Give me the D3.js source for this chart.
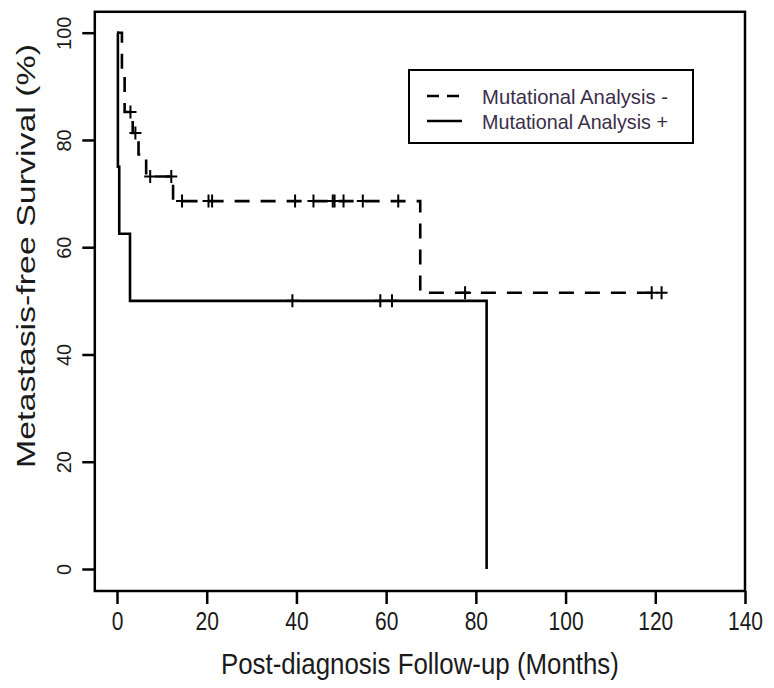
<!DOCTYPE html>
<html>
<head>
<meta charset="utf-8">
<script src="https://cdn.jsdelivr.net/npm/d3@7"></script>
<style>
body { margin: 0; background: #fff; }
svg { display: block; }
text { font-family: "Liberation Sans", Arial, sans-serif; fill: #1a1a1a; }
</style>
</head>
<body>
<div id="chart"></div>
<script>
var xTicks = [0, 20, 40, 60, 80, 100, 120, 140]
var yTicks = [0, 20, 40, 60, 80, 100]

// Kaplan-Meier steps: [months, survival %]
var negSteps = [[0, 100], [1.1, 92.6], [1.7, 85.2], [3.5, 81.3], [4.8, 77.3], [6.5, 73.2], [12.5, 68.6], [67.6, 51.5], [121.4, 51.5]]
var negCensor = [3.0, 4.1, 7.4, 12.1, 14.5, 20.4, 21.2, 39.7, 43.8, 48.1, 48.5, 50.5, 54.8, 62.7, 77.6, 119.2, 121.4]

var posSteps = [[0, 100], [0.2, 75], [0.5, 62.5], [2.9, 50], [82.4, 0]]
var posCensor = [39.1, 58.7, 61.3]

var seriesNames = ["Mutational Analysis -", "Mutational Analysis +"]
var xTitle = "Post-diagnosis Follow-up (Months)"
var yTitle = "Metastasis-free Survival (%)"

var width = 774, height = 688
var dash = "15,11"
var stretch = 1.2 //the original image is a bit taller than it is wide

var svg = d3.select("#chart").append("svg")
    .attr("width", width)
    .attr("height", height)

var x = d3.scaleLinear().domain([0, 140]).range([117, 745])
var y = d3.scaleLinear().domain([0, 100]).range([569, 32.7])

// the box runs a little past the data, like R's axis padding
var box = { left: x(-4.95), right: x(140), top: y(103.9), bottom: y(-4.1) }

function survivalAt(steps, t) {
    var s = steps[0][1]
    for (var i = 0, n = steps.length; i < n; i++) {
        if (steps[i][0] <= t) s = steps[i][1]
    }
    return s
}

var line = d3.line()
    .x(function (d) { return x(d[0]) })
    .y(function (d) { return y(d[1]) })
    .curve(d3.curveStepAfter)

function drawCurve(steps, censor, dashed) {
    var g = svg.append("g")
    g.append("path")
        .datum(steps)
        .attr("d", line)
        .attr("fill", "none")
        .attr("stroke", "#000")
        .attr("stroke-width", 2.6)
        .attr("stroke-dasharray", dashed ? dash : null)

    g.selectAll("path.censor")
        .data(censor)
        .enter()
        .append("path")
        .attr("class", "censor")
        .attr("d", function (d) {
            var cx = x(d), cy = y(survivalAt(steps, d))
            return "M" + (cx - 6) + "," + cy + "H" + (cx + 6) + "M" + cx + "," + (cy - 6.5) + "V" + (cy + 6.5)
        })
        .attr("stroke", "#000")
        .attr("stroke-width", 2)
}

drawCurve(negSteps, negCensor, true)
drawCurve(posSteps, posCensor, false)

// plot frame
svg.append("rect")
    .attr("x", box.left)
    .attr("y", box.top)
    .attr("width", box.right - box.left)
    .attr("height", box.bottom - box.top)
    .attr("fill", "none")
    .attr("stroke", "#000")
    .attr("stroke-width", 2.5)

var xAxis = svg.append("g")
    .attr("transform", "translate(0," + box.bottom + ")")
    .call(d3.axisBottom(x).tickValues(xTicks).tickSize(13).tickPadding(8))
xAxis.select(".domain").remove()
xAxis.selectAll("line").attr("stroke-width", 2.5)
xAxis.selectAll("text")
    .attr("font-size", 21)
    .attr("y", 21 / stretch)
    .attr("transform", "scale(1," + stretch + ")")

var yAxis = svg.append("g")
    .attr("transform", "translate(" + box.left + ",0)")
    .call(d3.axisLeft(y).tickValues(yTicks).tickSize(12.5))
yAxis.select(".domain").remove()
yAxis.selectAll("line").attr("stroke-width", 2.5)
yAxis.selectAll("text")
    .attr("font-size", 20)
    .attr("x", 0)
    .attr("y", -24)
    .attr("dy", null)
    .attr("text-anchor", "middle")
    .attr("transform", "rotate(-90)")

svg.append("text")
    .attr("transform", "translate(" + ((box.left + box.right) / 2) + ",674) scale(1," + stretch + ")")
    .attr("text-anchor", "middle")
    .attr("font-size", 25)
    .attr("textLength", 398)
    .attr("lengthAdjust", "spacingAndGlyphs")
    .text(xTitle)

svg.append("text")
    .attr("transform", "translate(35,256) rotate(-90)")
    .attr("text-anchor", "middle")
    .attr("font-size", 25)
    .attr("textLength", 424)
    .attr("lengthAdjust", "spacingAndGlyphs")
    .text(yTitle)

// legend
var legend = svg.append("g")
legend.append("rect")
    .attr("x", 409)
    .attr("y", 70)
    .attr("width", 284)
    .attr("height", 73)
    .attr("fill", "#fff")
    .attr("stroke", "#000")
    .attr("stroke-width", 2)

var rows = legend.selectAll("g.row")
    .data(seriesNames)
    .enter()
    .append("g")
    .attr("class", "row")
    .attr("transform", function (d, i) { return "translate(427," + (96 + i * 25) + ")" })

rows.append("line")
    .attr("x1", 0)
    .attr("x2", 35)
    .attr("stroke", "#000")
    .attr("stroke-width", 2.6)
    .attr("stroke-dasharray", function (d, i) { return i === 0 ? "12,8" : null })

rows.append("text")
    .attr("transform", "translate(55,8) scale(1,1.1)")
    .attr("font-size", 19)
    .attr("textLength", 186)
    .attr("lengthAdjust", "spacingAndGlyphs")
    .style("fill", "#3b2d4a")
    .text(function (d) { return d })
</script>
</body>
</html>
